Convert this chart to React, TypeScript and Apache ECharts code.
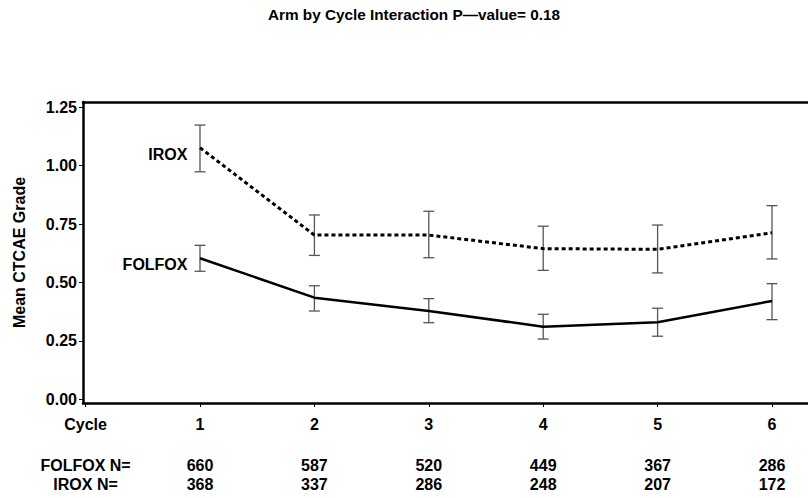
import React, { useEffect, useRef } from "react";
import * as echarts from "echarts";

const cycles = [1, 2, 3, 4, 5, 6];
const folfoxMean = [0.604, 0.435, 0.378, 0.311, 0.33, 0.421];
const folfoxLow = [0.548, 0.378, 0.328, 0.258, 0.27, 0.341];
const folfoxHigh = [0.659, 0.486, 0.431, 0.364, 0.39, 0.495];
const iroxMean = [1.077, 0.703, 0.703, 0.645, 0.642, 0.713];
const iroxLow = [0.974, 0.616, 0.606, 0.552, 0.541, 0.601];
const iroxHigh = [1.174, 0.789, 0.805, 0.741, 0.746, 0.829];
const folfoxN = [660, 587, 520, 449, 367, 286];
const iroxN = [368, 337, 286, 248, 207, 172];
const yTicks = [0, 0.25, 0.5, 0.75, 1.0, 1.25];
const xTicks = [0, 1, 2, 3, 4, 5, 6];
const titleText = "Arm by Cycle Interaction P\u2014value= 0.18";

const FONT = "'Liberation Sans', Arial, Helvetica, sans-serif";

export default function App() {
  const ref = useRef<HTMLDivElement>(null);
  useEffect(() => {
    if (!ref.current) return;
    const chart = echarts.init(ref.current, null, { renderer: "svg" });

    const errData = (low: number[], high: number[]) =>
      cycles.map((c, i) => [c, low[i], high[i]]);

    const renderErr = (params: any, api: any) => {
      const x = api.value(0);
      const lo = api.coord([x, api.value(1)]);
      const hi = api.coord([x, api.value(2)]);
      const hw = 5.5;
      const style = { stroke: "#555", lineWidth: 1.3 };
      return {
        type: "group",
        children: [
          { type: "line", shape: { x1: lo[0], y1: lo[1], x2: hi[0], y2: hi[1] }, style },
          { type: "line", shape: { x1: lo[0] - hw, y1: lo[1], x2: lo[0] + hw, y2: lo[1] }, style },
          { type: "line", shape: { x1: hi[0] - hw, y1: hi[1], x2: hi[0] + hw, y2: hi[1] }, style },
        ],
      };
    };

    const rich = {
      c: { fontSize: 16, fontWeight: "bold", fontFamily: FONT, color: "#000", lineHeight: 20 },
      s: { fontSize: 16, lineHeight: 22 },
      n: { fontSize: 16, fontWeight: "bold", fontFamily: FONT, color: "#000", lineHeight: 19 },
      m: { fontSize: 16, fontWeight: "bold", fontFamily: FONT, color: "#000", lineHeight: 19 },
    };

    const lineLabel = (text: string, dy: number) => ({
      show: true,
      position: "left",
      distance: 12,
      offset: [0, dy],
      formatter: text,
      fontSize: 16,
      fontWeight: "bold",
      fontFamily: FONT,
      color: "#000",
    });

    chart.setOption({
      animation: false,
      backgroundColor: "#fff",
      textStyle: { fontFamily: FONT },
      graphic: [
        {
          type: "text",
          x: 414,
          y: 14,
          style: {
            text: titleText,
            textAlign: "center",
            textVerticalAlign: "middle",
            fontSize: 15.3,
            fontWeight: "bold",
            fontFamily: FONT,
            fill: "#000",
          },
        },
      ],
      grid: { left: 83, right: 0, top: 102, bottom: 95, show: false },
      xAxis: [
        {
          type: "value",
          min: -0.0227,
          max: 6.3147,
          position: "bottom",
          splitLine: { show: false },
          axisLine: { show: true, onZero: false, lineStyle: { color: "#000", width: 2.5 } },
          axisTick: { show: true, length: 4, customValues: xTicks, lineStyle: { color: "#000", width: 1 } },
          axisLabel: {
            show: true,
            margin: 11,
            customValues: xTicks,
            rich,
            formatter: (v: number) => {
              if (v === 0) return "{c|Cycle}\n{s| }\n{n|FOLFOX N=}\n{m|IROX N=}";
              const i = cycles.indexOf(v);
              if (i < 0) return "";
              return `{c|${v}}\n{s| }\n{n|${folfoxN[i]}}\n{m|${iroxN[i]}}`;
            },
          },
        },
        {
          type: "value",
          min: -0.0227,
          max: 6.3147,
          position: "top",
          splitLine: { show: false },
          axisLine: { show: true, onZero: false, lineStyle: { color: "#000", width: 2.5 } },
          axisTick: { show: false },
          axisLabel: { show: false },
        },
      ],
      yAxis: {
        type: "value",
        min: -0.0158,
        max: 1.2727,
        name: "Mean CTCAE Grade",
        nameLocation: "middle",
        nameRotate: 90,
        nameGap: 56,
        nameTextStyle: { fontSize: 16, fontWeight: "bold", fontFamily: FONT, color: "#000" },
        splitLine: { show: false },
        axisLine: { show: true, onZero: false, lineStyle: { color: "#000", width: 2.5 } },
        axisTick: { show: true, length: 4, customValues: yTicks, lineStyle: { color: "#000", width: 1 } },
        axisLabel: {
          show: true,
          margin: 6,
          customValues: yTicks,
          fontSize: 16,
          fontWeight: "bold",
          fontFamily: FONT,
          color: "#000",
          formatter: (v: number) => v.toFixed(2),
        },
      },
      series: [
        {
          type: "custom",
          name: "FOLFOX CI",
          renderItem: renderErr,
          data: errData(folfoxLow, folfoxHigh),
          encode: { x: 0, y: [1, 2] },
          z: 1,
        },
        {
          type: "custom",
          name: "IROX CI",
          renderItem: renderErr,
          data: errData(iroxLow, iroxHigh),
          encode: { x: 0, y: [1, 2] },
          z: 1,
        },
        {
          type: "line",
          name: "FOLFOX",
          data: cycles.map((c, i) => ({
            value: [c, folfoxMean[i]],
            label: { show: i === 0 },
          })),
          symbol: "circle",
          symbolSize: 1,
          showSymbol: true,
          itemStyle: { color: "rgba(0,0,0,0)" },
          lineStyle: { color: "#000", width: 2.5 },
          label: lineLabel("FOLFOX", 6),
          z: 3,
        },
        {
          type: "line",
          name: "IROX",
          data: cycles.map((c, i) => ({
            value: [c, iroxMean[i]],
            label: { show: i === 0 },
          })),
          symbol: "circle",
          symbolSize: 1,
          showSymbol: true,
          itemStyle: { color: "rgba(0,0,0,0)" },
          lineStyle: { color: "#000", width: 3, type: [4, 3] },
          label: lineLabel("IROX", 7),
          z: 3,
        },
      ],
    });
    return () => chart.dispose();
  }, []);

  return (
    <div
      ref={ref}
      style={{ position: "fixed", left: 0, top: 0, width: 808, height: 498, background: "#fff" }}
    />
  );
}
